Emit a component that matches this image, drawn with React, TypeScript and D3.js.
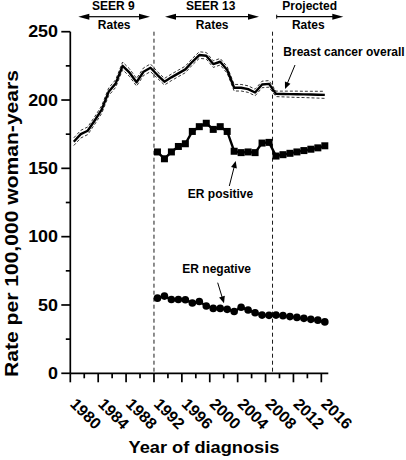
import React from "react";
import * as d3 from "d3";

// ---- data ----
const overallYears = [
  1980, 1981, 1982, 1983, 1984, 1985, 1986, 1987, 1988, 1989, 1990, 1991, 1992,
  1993, 1994, 1995, 1996, 1997, 1998, 1999, 2000, 2001, 2002, 2003, 2004, 2005,
  2006, 2007, 2008, 2009, 2010, 2011, 2012, 2013, 2014, 2015, 2016,
];
const overallRate = [
  169.5, 175, 177.5, 185, 193, 206, 212, 225, 220, 213, 220.7, 223.6, 218.3,
  213.4, 216.6, 219.5, 222.4, 228, 232.9, 232.4, 226.3, 228, 222, 209, 209, 208,
  205.5, 211.4, 211.8, 204.5, 204.4, 204.3, 204.2, 204.1, 204, 203.9, 203.8,
];
const overallCIHalf = [
  2.8, 2.8, 2.8, 2.8, 2.8, 2.8, 2.8, 2.8, 2.8, 2.8, 2.8, 2.8, 2.4, 2.4, 2.4,
  2.4, 2.4, 2.4, 2.4, 2.4, 2.4, 2.4, 2.4, 2.4, 2.4, 2.4, 2.4, 2.4, 2.4, 2.0,
  2.1, 2.2, 2.3, 2.3, 2.4, 2.5, 2.6,
];
const erYears = [
  1992, 1993, 1994, 1995, 1996, 1997, 1998, 1999, 2000, 2001, 2002, 2003, 2004,
  2005, 2006, 2007, 2008, 2009, 2010, 2011, 2012, 2013, 2014, 2015, 2016,
];
const erPositive = [
  162, 157, 162, 166, 168, 177, 180.5, 183, 178.5, 180.5, 177, 162.5, 161.5,
  162, 161.5, 168.5, 169, 159, 160, 161, 162, 163, 164, 165, 166.5,
];
const erNegative = [
  55, 56.5, 54, 54, 53.8, 51.5, 52.5, 49.3, 47.5, 47.5, 46.8, 45.2, 48.3, 46.3,
  44.3, 42.6, 42.4, 42.6, 42.2, 41.5, 40.9, 40.2, 39.5, 38.9, 37.6,
];
const yMajorTicks = [0, 50, 100, 150, 200, 250];
const yMinorTicks = [25, 75, 125, 175, 225];
const xMajorTicks = [1980, 1984, 1988, 1992, 1996, 2000, 2004, 2008, 2012, 2016];
const xMinorTicks = [1982, 1986, 1990, 1994, 1998, 2002, 2006, 2010, 2014];
const periodBreaks = [1992, 2009];

const FONT = "'Liberation Sans', Arial, Helvetica, sans-serif";

type ArrowProps = {
  x1: number; y1: number; x2: number; y2: number;
  head?: number; half?: number; width?: number;
};
function Arrow({ x1, y1, x2, y2, head = 7, half = 3, width = 1 }: ArrowProps) {
  const dx = x2 - x1, dy = y2 - y1;
  const len = Math.sqrt(dx * dx + dy * dy);
  const ux = dx / len, uy = dy / len;
  const bx = x2 - ux * head, by = y2 - uy * head;
  const px = -uy, py = ux;
  const pts = `${x2},${y2} ${bx + px * half},${by + py * half} ${bx - px * half},${by - py * half}`;
  return (
    <g>
      <line x1={x1} y1={y1} x2={bx + ux * 1} y2={by + uy * 1} stroke="#000" strokeWidth={width} />
      <polygon points={pts} fill="#000" />
    </g>
  );
}

export default function App() {
  const x = d3.scaleLinear().domain([1980, 2017]).range([70.3, 328.3]);
  const y = d3.scaleLinear().domain([0, 250]).range([373.3, 31.7]);
  const xm = (yr: number) => x(yr + 0.5);

  const line = d3
    .line<[number, number]>()
    .x((d) => xm(d[0]))
    .y((d) => y(d[1]));

  const overall: [number, number][] = overallYears.map((yr, i) => [yr, overallRate[i]]);
  const upper: [number, number][] = overallYears.map((yr, i) => [yr, overallRate[i] + overallCIHalf[i]]);
  const lower: [number, number][] = overallYears.map((yr, i) => [yr, overallRate[i] - overallCIHalf[i]]);
  const pos: [number, number][] = erYears.map((yr, i) => [yr, erPositive[i]]);
  const neg: [number, number][] = erYears.map((yr, i) => [yr, erNegative[i]]);

  const axisY0 = y(0);
  const axisX0 = x(1980);
  const sq = 7;

  const topArrowY = 16.7;

  return (
    <svg
      width={406}
      height={460}
      style={{ position: "absolute", left: 0, top: 0, background: "#fff" }}
      fontFamily={FONT}
    >
      <rect x={0} y={0} width={406} height={460} fill="#fff" />

      {/* period separators */}
      {periodBreaks.map((b) => (
        <line
          key={b}
          x1={x(b)}
          x2={x(b)}
          y1={y(250)}
          y2={axisY0}
          stroke="#000"
          strokeWidth={0.9}
          strokeDasharray="4,3"
        />
      ))}

      {/* CI */}
      <path d={line(upper) || ""} fill="none" stroke="#000" strokeWidth={0.8} strokeDasharray="3,2" />
      <path d={line(lower) || ""} fill="none" stroke="#000" strokeWidth={0.8} strokeDasharray="3,2" />
      {/* overall */}
      <path d={line(overall) || ""} fill="none" stroke="#000" strokeWidth={2.4} strokeLinejoin="round" />

      {/* ER positive */}
      <path d={line(pos) || ""} fill="none" stroke="#000" strokeWidth={2.4} />
      {pos.map((d, i) => (
        <rect key={i} x={xm(d[0]) - sq / 2} y={y(d[1]) - sq / 2} width={sq} height={sq} fill="#000" />
      ))}

      {/* ER negative */}
      <path d={line(neg) || ""} fill="none" stroke="#000" strokeWidth={2.4} />
      {neg.map((d, i) => (
        <circle key={i} cx={xm(d[0])} cy={y(d[1])} r={3.8} fill="#000" />
      ))}

      {/* y axis */}
      <line x1={axisX0} x2={axisX0} y1={y(250)} y2={axisY0} stroke="#000" strokeWidth={1.7} />
      {yMajorTicks.map((t) => (
        <g key={t}>
          <line x1={axisX0 - 9} x2={axisX0} y1={y(t)} y2={y(t)} stroke="#000" strokeWidth={1.7} />
          <text
            transform={`translate(58,${y(t)}) scale(1.12,1)`}
            textAnchor="end"
            dy="0.36em"
            fontSize={16}
            fontWeight="bold"
          >
            {t}
          </text>
        </g>
      ))}
      {yMinorTicks.map((t) => (
        <line key={t} x1={axisX0 - 4.5} x2={axisX0} y1={y(t)} y2={y(t)} stroke="#000" strokeWidth={1.7} />
      ))}

      {/* x axis */}
      <line x1={axisX0} x2={x(2017)} y1={axisY0} y2={axisY0} stroke="#000" strokeWidth={1.7} />
      {xMajorTicks.map((t) => (
        <g key={t}>
          <line x1={x(t)} x2={x(t)} y1={axisY0} y2={axisY0 + 9} stroke="#000" strokeWidth={1.7} />
          <text
            transform={`translate(${x(t) - 1},405) rotate(45)`}
            fontSize={16}
            fontWeight="bold"
          >
            {t}
          </text>
        </g>
      ))}
      {xMinorTicks.map((t) => (
        <line key={t} x1={x(t)} x2={x(t)} y1={axisY0} y2={axisY0 + 5} stroke="#000" strokeWidth={1.7} />
      ))}

      {/* axis titles */}
      <text
        transform="translate(204,453) scale(1.14,1)"
        textAnchor="middle"
        fontSize={16}
        fontWeight="bold"
      >
        Year of diagnosis
      </text>
      <text
        transform="translate(17.5,223.5) rotate(-90) scale(1.14,1)"
        textAnchor="middle"
        fontSize={18.5}
        fontWeight="bold"
      >
        Rate per 100,000 woman-years
      </text>

      {/* period header */}
      <g fontSize={12} fontWeight="bold" textAnchor="middle">
        <text x={113.3} y={10}>SEER 9</text>
        <text x={210.8} y={10}>SEER 13</text>
        <text x={309.7} y={10}>Projected</text>
        <text x={114.2} y={29}>Rates</text>
        <text x={212.2} y={29}>Rates</text>
        <text x={308.3} y={29}>Rates</text>
      </g>
      <Arrow x1={114} y1={topArrowY} x2={78.3} y2={topArrowY} head={11} half={3} width={1.2} />
      <Arrow x1={114} y1={topArrowY} x2={150} y2={topArrowY} head={11} half={3} width={1.2} />
      <Arrow x1={212} y1={topArrowY} x2={165} y2={topArrowY} head={11} half={3} width={1.2} />
      <Arrow x1={212} y1={topArrowY} x2={259} y2={topArrowY} head={11} half={3} width={1.2} />
      <Arrow x1={276.7} y1={topArrowY} x2={343.3} y2={topArrowY} head={11} half={3} width={1.2} />
      <line x1={276.7} x2={276.7} y1={topArrowY - 2} y2={topArrowY + 2} stroke="#000" strokeWidth={1} />

      {/* series labels */}
      <g fontSize={12} fontWeight="bold">
        <text x={283.3} y={56}>Breast cancer overall</text>
        <text x={220.5} y={197.5} textAnchor="middle">ER positive</text>
        <text x={216.7} y={272.7} textAnchor="middle">ER negative</text>
      </g>
      <Arrow x1={295} y1={65} x2={285} y2={89} head={7} half={3} width={1} />
      <Arrow x1={229.3} y1={186} x2={235.7} y2={161} head={7} half={3} width={1} />
      <Arrow x1={217.7} y1={282.7} x2={224} y2={303.3} head={7} half={3} width={1} />
    </svg>
  );
}
